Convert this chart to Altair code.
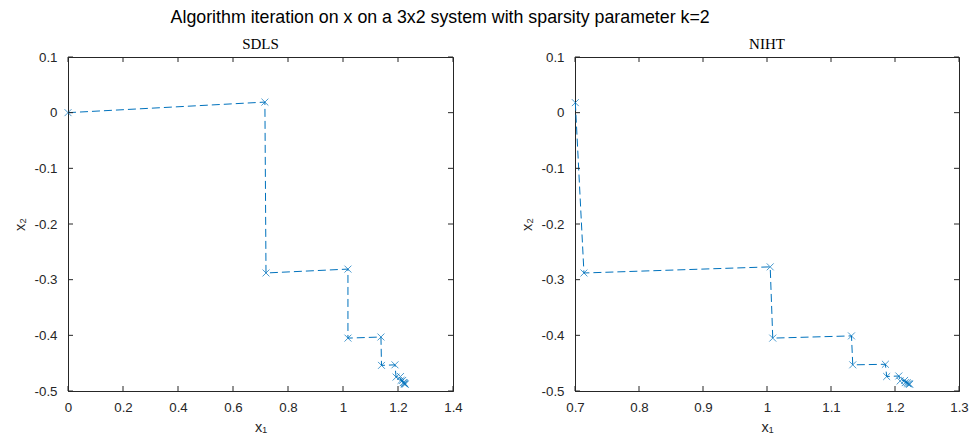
import altair as alt
import pandas as pd

# SDLS iterates
sdls_x = [0.0, 0.716, 0.72, 1.018, 1.018, 1.138, 1.14, 1.189, 1.193, 1.209, 1.211, 1.217, 1.219, 1.222, 1.223, 1.225, 1.226]
sdls_y = [0.0, 0.019, -0.288, -0.281, -0.405, -0.403, -0.454, -0.453, -0.475, -0.474, -0.481, -0.481, -0.485, -0.485, -0.487, -0.487, -0.488]

# NIHT iterates
niht_x = [0.7005, 0.714, 1.005, 1.009, 1.132, 1.134, 1.185, 1.187, 1.206, 1.208, 1.215, 1.216, 1.219, 1.220, 1.222, 1.223]
niht_y = [0.018, -0.288, -0.277, -0.405, -0.401, -0.453, -0.452, -0.474, -0.473, -0.482, -0.481, -0.485, -0.485, -0.487, -0.487, -0.488]

sdls_xticks = [0, 0.2, 0.4, 0.6, 0.8, 1, 1.2, 1.4]
niht_xticks = [0.7, 0.8, 0.9, 1, 1.1, 1.2, 1.3]
yticks = [-0.5, -0.4, -0.3, -0.2, -0.1, 0, 0.1]

TITLE = "Algorithm iteration on x on a 3x2 system with sparsity parameter k=2"
BLUE = "#0072BD"
AX = "#262626"
H = 334
TICK = 5
XSHAPE = "M-1,-1L1,1M-1,1L1,-1"
LBL = "replace(format(datum.value, '~g'), '\u2212', '-')"


def panel(xs, ys, xticks, name, W):
    df = pd.DataFrame({"x": xs, "y": ys, "step": list(range(len(xs)))})
    xdom = [xticks[0], xticks[-1]]
    ydom = [yticks[0], yticks[-1]]
    xscale = alt.Scale(domain=xdom, nice=False, zero=False)
    yscale = alt.Scale(domain=ydom, nice=False, zero=False)
    xaxis = alt.Axis(values=xticks, labelExpr=LBL, title="x\u2081", tickSize=0,
                     labelPadding=9, titlePadding=7, grid=False,
                     labelFlush=False, labelOverlap=False)
    yaxis = alt.Axis(values=yticks, labelExpr=LBL, title="x\u2082", tickSize=0,
                     labelPadding=11, titlePadding=7, grid=False,
                     labelFlush=False, labelOverlap=False)
    base = alt.Chart(df)
    line = base.mark_line(color=BLUE, strokeWidth=1, strokeDash=[8, 4]).encode(
        x=alt.X("x:Q", scale=xscale, axis=xaxis),
        y=alt.Y("y:Q", scale=yscale, axis=yaxis),
        order="step:Q",
    )
    pts = base.mark_point(shape=XSHAPE, size=48, color=BLUE, filled=False, strokeWidth=1).encode(
        x="x:Q", y="y:Q"
    )
    xt = alt.Chart(pd.DataFrame({"t": xticks}))
    yt = alt.Chart(pd.DataFrame({"t": yticks}))
    tick_style = dict(color=AX, strokeWidth=1)
    bx = xt.mark_rule(**tick_style).encode(x="t:Q", y=alt.value(H), y2=alt.value(H - TICK))
    tx = xt.mark_rule(**tick_style).encode(x="t:Q", y=alt.value(0), y2=alt.value(TICK))
    ly = yt.mark_rule(**tick_style).encode(y="t:Q", x=alt.value(0), x2=alt.value(TICK))
    ry = yt.mark_rule(**tick_style).encode(y="t:Q", x=alt.value(W), x2=alt.value(W - TICK))
    return alt.layer(line, pts, bx, tx, ly, ry).properties(
        width=W, height=H,
        title=alt.TitleParams(name, font="Liberation Serif", fontSize=15,
                              fontWeight="normal", color="#000000", offset=-2),
    )


chart = alt.hconcat(
    panel(sdls_x, sdls_y, sdls_xticks, "SDLS", 385),
    panel(niht_x, niht_y, niht_xticks, "NIHT", 384),
    spacing=55,
).properties(
    title=alt.TitleParams(TITLE, font="Liberation Sans", fontSize=17.8, fontWeight="normal",
                          color="#000000", anchor="start", dx=159, offset=10),
    padding={"left": 11, "top": 8, "right": 0, "bottom": 0},
    background="white",
).configure_view(stroke=AX, strokeWidth=1).configure_axis(
    domainColor=AX, labelColor=AX, titleColor=AX, labelFont="Liberation Sans",
    titleFont="Liberation Sans", labelFontSize=13.3, titleFontSize=14.5,
    titleFontWeight="normal", domainWidth=1,
)

chart.save("out.html", embed_options={"renderer": "svg", "actions": False})
